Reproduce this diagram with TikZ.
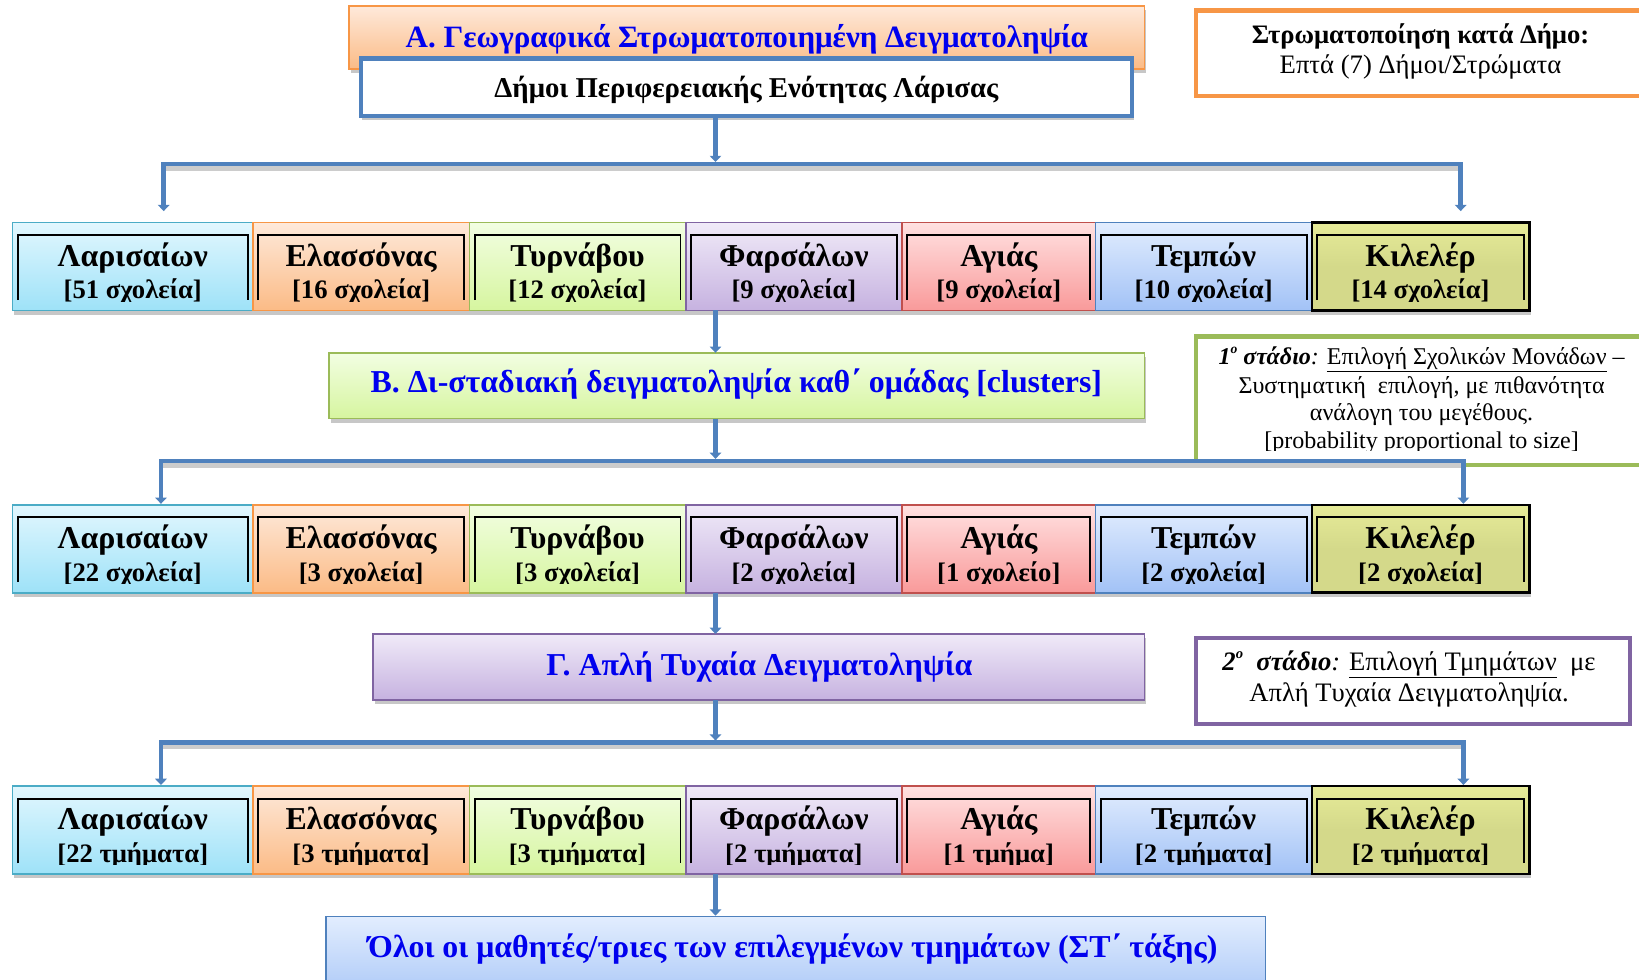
\documentclass[tikz,border=0pt]{standalone}
\usepackage{fontspec}
\setmainfont{Liberation Serif}
\usetikzlibrary{shadows,arrows.meta}
\definecolor{cyB}{HTML}{4BACC6}\definecolor{cyT}{HTML}{E2F7FE}\definecolor{cyD}{HTML}{9EE2F8}
\definecolor{orB}{HTML}{F79646}\definecolor{orT}{HTML}{FEE9DA}\definecolor{orD}{HTML}{FBBB86}
\definecolor{grB}{HTML}{9BBB59}\definecolor{grT}{HTML}{F2FEE2}\definecolor{grD}{HTML}{D6F59F}
\definecolor{puB}{HTML}{8064A2}\definecolor{puT}{HTML}{F0EAF8}\definecolor{puD}{HTML}{C6B2E0}
\definecolor{reB}{HTML}{C0504D}\definecolor{reT}{HTML}{FFE1E1}\definecolor{reD}{HTML}{F99A9A}
\definecolor{blB}{HTML}{4F81BD}\definecolor{blT}{HTML}{E2EDFE}\definecolor{blD}{HTML}{A2C2F6}
\definecolor{olF}{HTML}{D4D98A}\definecolor{olT}{HTML}{E6EB98}
\definecolor{titleblue}{RGB}{0,0,238}
\tikzset{
  shadowed/.style={drop shadow={shadow xshift=1.5pt,shadow yshift=-4pt,fill=black!22,opacity=1}},
  cellbox/.style={rectangle,inner sep=0pt,outer sep=0pt,line width=1.6pt,shadowed},
  cyancell/.style={draw=cyB,top color=cyT,bottom color=cyD},
  orcell/.style={draw=orB,top color=orT,bottom color=orD},
  grcell/.style={draw=grB,top color=grT,bottom color=grD},
  pucell/.style={draw=puB,top color=puT,bottom color=puD},
  recell/.style={draw=reB,top color=reT,bottom color=reD},
  blcell/.style={draw=blB,top color=blT,bottom color=blD},
  olcell/.style={draw=black,top color=olT,bottom color=olF,middle color=olF,line width=2.4pt},
  bracket/.style={draw=black,line width=1.8pt},
  namefont/.style={font=\fontsize{30.5}{30.5}\selectfont\bfseries,inner sep=0pt},
  countfont/.style={font=\fontsize{25.5}{25.5}\selectfont\bfseries,inner sep=0pt},
  titlebox/.style={rectangle,inner sep=0pt,outer sep=0pt,line width=1.6pt,shadowed,
     font=\fontsize{30.5}{30.5}\selectfont\bfseries,text=titleblue},
  sidebox/.style={rectangle,draw,fill=white,line width=4pt,inner sep=0pt},
  sidetext/.style={font=\fontsize{25.5}{25.5}\selectfont,inner sep=0pt,anchor=base},
  greentext/.style={sidetext,font=\fontsize{23}{23}\selectfont},
  conn/.style={draw=blB,line width=4.5pt},
  barline/.style={conn,line cap=rect},
  barshadow/.style={draw=black!20,line width=4.5pt,line cap=rect},
  arr/.style={conn,-{Triangle[width=11pt,length=6pt]}},
}
\newcommand{\mycell}[7]{%
  \node[cellbox,#5,anchor=north west,minimum width={#3-#2},minimum height=84] (#1) at (#2,#4) {};
  \draw[bracket] ([shift={(5pt,-74pt)}]#1.north west) |- ([shift={(-5pt,-12pt)}]#1.north east) -- ([shift={(-5pt,-74pt)}]#1.north east);
  \node[namefont,anchor=base] (#1n) at ([yshift=-42pt]#1.north) {#6};
  \begin{scope}
    \clip ([yshift=-75pt]#1.north west) rectangle (#1.north east);
    \node[countfont,anchor=base] (#1c) at ([yshift=-73pt]#1.north) {#7};
  \end{scope}
}
\begin{document}
\begin{tikzpicture}[x=1pt,y=-1pt]
\useasboundingbox (0,0) rectangle (1568,937);
\clip (0,0) rectangle (1568,937);

% --- A
\node[titlebox,draw=orB,top color=orT,bottom color=orD,minimum width=761,minimum height=60] (A) at (714.5,36) {};
\node[font=\fontsize{29.7}{29.7}\selectfont\bfseries,text=titleblue,anchor=base,inner sep=0pt] (At) at (714.5,45) {Α. Γεωγραφικά Στρωματοποιημένη Δειγματοληψία};
\node[rectangle,draw=blB,fill=white,line width=4pt,shadowed,minimum width=738,minimum height=55,inner sep=0pt] (nb) at (714,83.5) {};
\node[font=\fontsize{27.5}{27.5}\selectfont\bfseries,anchor=base,inner sep=0pt] (nbt) at (714,93.5) {Δήμοι Περιφερειακής Ενότητας Λάρισας};

% --- top right
\node[sidebox,draw=orB,anchor=north west,minimum width=480,minimum height=82] (TR) at (1142,8) {};
\node[sidetext,font=\fontsize{25.5}{25.5}\selectfont\bfseries] (TR1) at (1359,41.5) {Στρωματοποίηση κατά Δήμο:};
\node[sidetext] (TR2) at (1359,70) {Επτά (7) Δήμοι/Στρώματα};

% --- row 1
\mycell{r1c1}{12}{242}{213}{cyancell}{Λαρισαίων}{[51 σχολεία]}
\mycell{r1c2}{242}{449}{213}{orcell}{Ελασσόνας}{[16 σχολεία]}
\mycell{r1c3}{449}{656}{213}{grcell}{Τυρνάβου}{[12 σχολεία]}
\mycell{r1c4}{656}{863}{213}{pucell}{Φαρσάλων}{[9 σχολεία]}
\mycell{r1c5}{863}{1048}{213}{recell}{Αγιάς}{[9 σχολεία]}
\mycell{r1c6}{1048}{1255}{213}{blcell}{Τεμπών}{[10 σχολεία]}
\mycell{r1c7}{1255}{1463}{213}{olcell}{Κιλελέρ}{[14 σχολεία]}

% --- B
\node[titlebox,draw=grB,top color=grT,bottom color=grD,minimum width=780,minimum height=63] (B) at (705,369) {};
\node[font=\fontsize{30.5}{30.5}\selectfont\bfseries,text=titleblue,anchor=base,inner sep=0pt] (Bt) at (704.5,375.5) {Β. Δι-σταδιακή δειγματοληψία καθ΄ ομάδας [clusters]};
\node[sidebox,draw=grB,anchor=north west,minimum width=480,minimum height=123] (G) at (1142,320) {};
\node[greentext] (G1) at (1360,349) {\textbf{\textit{1\raisebox{0.45em}{\fontsize{13}{13}\selectfont ο} στάδιο}}\textit{:} \underline{Επιλογή Σχολικών Μονάδων} –};
\node[greentext] (G2) at (1360,376) {Συστηματική\ \ επιλογή, με πιθανότητα};
\node[greentext] (G3) at (1360,402) {ανάλογη του μεγέθους.};
\begin{scope}
  \clip (1150,405) rectangle (1568,431);
  \node[greentext] (G4) at (1360,429) {[probability proportional to size]};
\end{scope}

% --- row 2
\mycell{r2c1}{12}{242}{483}{cyancell}{Λαρισαίων}{[22 σχολεία]}
\mycell{r2c2}{242}{449}{483}{orcell}{Ελασσόνας}{[3 σχολεία]}
\mycell{r2c3}{449}{656}{483}{grcell}{Τυρνάβου}{[3 σχολεία]}
\mycell{r2c4}{656}{863}{483}{pucell}{Φαρσάλων}{[2 σχολεία]}
\mycell{r2c5}{863}{1048}{483}{recell}{Αγιάς}{[1 σχολείο]}
\mycell{r2c6}{1048}{1255}{483}{blcell}{Τεμπών}{[2 σχολεία]}
\mycell{r2c7}{1255}{1463}{483}{olcell}{Κιλελέρ}{[2 σχολεία]}

% --- Gamma
\node[titlebox,draw=puB,top color=puT,bottom color=puD,minimum width=738,minimum height=63] (C) at (726,638) {};
\node[font=\fontsize{30.5}{30.5}\selectfont\bfseries,text=titleblue,anchor=base,inner sep=0pt] (Ct) at (726.5,646) {Γ. Απλή Τυχαία Δειγματοληψία};
\node[sidebox,draw=puB,anchor=north west,minimum width=415,minimum height=83] (P) at (1142,608) {};
\node[sidetext] (P1) at (1348,641) {\textbf{\textit{2\raisebox{0.45em}{\fontsize{14}{14}\selectfont ο}\ \ στάδιο}}\textit{:} \underline{Επιλογή Τμημάτων}\ \ με};
\node[sidetext] (P2) at (1348,671) {Απλή Τυχαία Δειγματοληψία.};

% --- row 3
\mycell{r3c1}{12}{242}{752}{cyancell}{Λαρισαίων}{[22 τμήματα]}
\mycell{r3c2}{242}{449}{752}{orcell}{Ελασσόνας}{[3 τμήματα]}
\mycell{r3c3}{449}{656}{752}{grcell}{Τυρνάβου}{[3 τμήματα]}
\mycell{r3c4}{656}{863}{752}{pucell}{Φαρσάλων}{[2 τμήματα]}
\mycell{r3c5}{863}{1048}{752}{recell}{Αγιάς}{[1 τμήμα]}
\mycell{r3c6}{1048}{1255}{752}{blcell}{Τεμπών}{[2 τμήματα]}
\mycell{r3c7}{1255}{1463}{752}{olcell}{Κιλελέρ}{[2 τμήματα]}

% --- final
\node[rectangle,draw=blB,top color=blT,bottom color=blD,line width=1.6pt,inner sep=0pt,anchor=north west,
      minimum width=899,minimum height=90] (F) at (311,876) {};
\node[font=\fontsize{30.5}{30.5}\selectfont\bfseries,text=titleblue,anchor=base,inner sep=0pt] (Ft) at (758.5,916) {Όλοι οι μαθητές/τριες των επιλεγμένων τμημάτων (ΣΤ΄ τάξης)};

% --- connectors
\coordinate (b1L) at (156.6,157); \coordinate (b1R) at (1397.4,157); \coordinate (b1C) at (684.5,157);
\coordinate (b2L) at (154,441);   \coordinate (b2R) at (1400,441);   \coordinate (b2C) at (684.5,441);
\coordinate (b3L) at (154,710.5); \coordinate (b3R) at (1400,710.5); \coordinate (b3C) at (684.5,710.5);

\draw[barshadow] ([yshift=-4pt]b1L) -- ([yshift=-4pt]b1R);
\draw[barshadow] ([yshift=-4pt]b2L) -- ([yshift=-4pt]b2R);
\draw[barshadow] ([yshift=-4pt]b3L) -- ([yshift=-4pt]b3R);

\draw[arr] (b1C |- nb.south) -- ([yshift=2pt]b1C);
\draw[barline] (b1L) -- (b1R);
\draw[arr,shorten >=11pt] (b1L) -- (b1L |- r1c1.north);
\draw[arr,shorten >=11pt] (b1R) -- (b1R |- r1c7.north);

\draw[arr] (b1C |- r1c4.south) -- (b1C |- B.north);

\draw[arr] (b2C |- B.south) -- ([yshift=2pt]b2C);
\draw[barline] (b2L) -- (b2R);
\draw[arr,shorten >=1pt] (b2L) -- (b2L |- r2c1.north);
\draw[arr,shorten >=1pt] (b2R) -- (b2R |- r2c7.north);

\draw[arr] (b2C |- r2c4.south) -- (b2C |- C.north);

\draw[arr] (b3C |- C.south) -- ([yshift=2pt]b3C);
\draw[barline] (b3L) -- (b3R);
\draw[arr,shorten >=1pt] (b3L) -- (b3L |- r3c1.north);
\draw[arr,shorten >=1pt] (b3R) -- (b3R |- r3c7.north);

\draw[arr] (b3C |- r3c4.south) -- (b3C |- F.north);
\end{tikzpicture}
\end{document}
